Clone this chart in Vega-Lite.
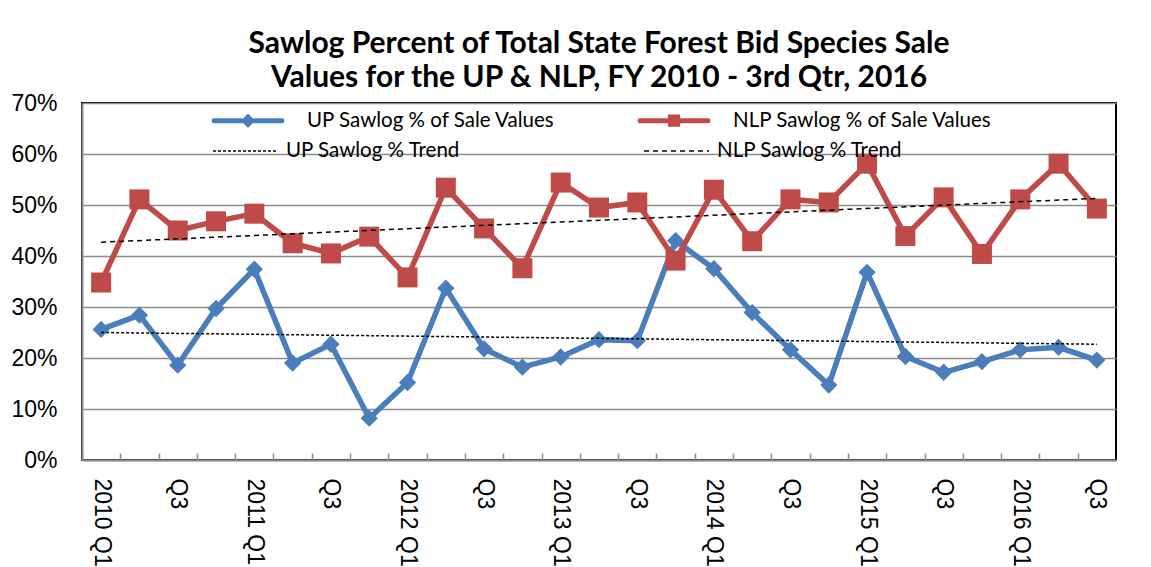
{
  "$schema": "https://vega.github.io/schema/vega-lite/v6.json",
  "width": 1034,
  "height": 357,
  "autosize": {"type": "none"},
  "padding": {"left": 82, "top": 103, "right": 35, "bottom": 107},
  "background": "white",
  "title": {
    "text": ["Sawlog Percent of Total State Forest  Bid Species Sale", "Values for the UP & NLP, FY 2010 - 3rd Qtr, 2016"],
    "font": "Lato",
    "fontWeight": "bold",
    "fontSize": 30,
    "lineHeight": 34,
    "anchor": "middle",
    "offset": -11,
    "color": "black"
  },
  "config": {
    "view": {"stroke": "black", "strokeWidth": 2},
    "axis": {"labelFont": "Liberation Sans", "labelColor": "black", "domainColor": "#8c8c8c", "domainWidth": 2}
  },
  "datasets": {
    "vals": [
      {"q": "2010 Q1", "up": 25.6, "nlp": 34.8},
      {"q": "2010 Q2", "up": 28.4, "nlp": 51.1},
      {"q": "2010 Q3", "up": 18.6, "nlp": 45.0},
      {"q": "2010 Q4", "up": 29.7, "nlp": 46.8},
      {"q": "2011 Q1", "up": 37.4, "nlp": 48.3},
      {"q": "2011 Q2", "up": 19.0, "nlp": 42.5},
      {"q": "2011 Q3", "up": 22.7, "nlp": 40.5},
      {"q": "2011 Q4", "up": 8.2, "nlp": 43.8},
      {"q": "2012 Q1", "up": 15.2, "nlp": 35.8},
      {"q": "2012 Q2", "up": 33.7, "nlp": 53.4},
      {"q": "2012 Q3", "up": 21.8, "nlp": 45.4},
      {"q": "2012 Q4", "up": 18.2, "nlp": 37.6},
      {"q": "2013 Q1", "up": 20.2, "nlp": 54.4},
      {"q": "2013 Q2", "up": 23.6, "nlp": 49.5},
      {"q": "2013 Q3", "up": 23.4, "nlp": 50.5},
      {"q": "2013 Q4", "up": 43.0, "nlp": 39.1},
      {"q": "2014 Q1", "up": 37.5, "nlp": 53.0},
      {"q": "2014 Q2", "up": 28.9, "nlp": 42.9},
      {"q": "2014 Q3", "up": 21.6, "nlp": 51.1},
      {"q": "2014 Q4", "up": 14.7, "nlp": 50.5},
      {"q": "2015 Q1", "up": 36.8, "nlp": 58.1},
      {"q": "2015 Q2", "up": 20.3, "nlp": 43.9},
      {"q": "2015 Q3", "up": 17.2, "nlp": 51.5},
      {"q": "2015 Q4", "up": 19.3, "nlp": 40.4},
      {"q": "2016 Q1", "up": 21.6, "nlp": 51.1},
      {"q": "2016 Q2", "up": 22.1, "nlp": 58.1},
      {"q": "2016 Q3", "up": 19.6, "nlp": 49.3}
    ],
    "trend": [
      {"q": "2010 Q1", "upt": 25.0, "nlpt": 42.7},
      {"q": "2016 Q3", "upt": 22.7, "nlpt": 51.3}
    ]
  },
  "layer": [
    {
      "data": {"name": "vals"},
      "transform": [{"fold": ["up", "nlp"], "as": ["series", "v"]}],
      "mark": {"type": "line", "strokeWidth": 5.5},
      "encoding": {
        "x": {
          "field": "q",
          "type": "ordinal",
          "title": null,
          "scale": {
            "type": "band",
            "paddingInner": 0,
            "paddingOuter": 0,
            "domain": ["2010 Q1","2010 Q2","2010 Q3","2010 Q4","2011 Q1","2011 Q2","2011 Q3","2011 Q4","2012 Q1","2012 Q2","2012 Q3","2012 Q4","2013 Q1","2013 Q2","2013 Q3","2013 Q4","2014 Q1","2014 Q2","2014 Q3","2014 Q4","2015 Q1","2015 Q2","2015 Q3","2015 Q4","2016 Q1","2016 Q2","2016 Q3"]
          },
          "axis": {
            "labelAngle": 90,
            "labelFontSize": 23,
            "labelExpr": "indexof(datum.value, 'Q1') >= 0 ? datum.value : (indexof(datum.value, 'Q3') >= 0 ? 'Q3' : '')",
            "tickSize": -7,
            "tickOffset": -19.15,
            "labelOffset": 19.15,
            "tickColor": "#8c8c8c",
            "tickWidth": 1.5,
            "labelPadding": 25,
            "labelAlign": "left",
            "labelBaseline": "middle",
            "grid": false
          }
        },
        "y": {
          "field": "v",
          "type": "quantitative",
          "title": null,
          "scale": {"domain": [0, 70], "nice": false},
          "axis": {
            "values": [0, 10, 20, 30, 40, 50, 60, 70],
            "labelExpr": "datum.value + '%'",
            "labelFontSize": 23,
            "ticks": false,
            "labelPadding": 25,
            "grid": true,
            "gridColor": "#8c8c8c",
            "gridWidth": 1.5
          }
        },
        "color": {
          "field": "series",
          "type": "nominal",
          "scale": {"domain": ["up", "nlp"], "range": ["#4A7EBB", "#BE4B48"]},
          "legend": {
            "orient": "none",
            "legendX": 127,
            "legendY": -21.5,
            "direction": "horizontal",
            "title": null,
            "padding": 0,
            "symbolType": "stroke",
            "symbolSize": 5329,
            "symbolStrokeWidth": 5,
            "labelOffset": 20,
            "columnPadding": 74,
            "labelFont": "Lato",
            "labelFontSize": 20.5,
            "labelColor": "black",
            "labelLimit": 400,
            "labelExpr": "datum.value == 'up' ? 'UP Sawlog % of Sale Values' : 'NLP Sawlog % of Sale Values'",
            "encode": {
              "symbols": {
                "update": {
                  "shape": {"signal": "datum.value == 'up' ? 'M-0.93,0H0.93M0,-0.1L0.1,0L0,0.1L-0.1,0Z' : 'M-0.93,0H0.93M-0.1,-0.1H0.1V0.1H-0.1Z'"},
                  "fill": {"signal": "datum.value == 'up' ? '#4A7EBB' : '#BE4B48'"},
                  "stroke": {"signal": "datum.value == 'up' ? '#4A7EBB' : '#BE4B48'"},
                  "strokeWidth": {"value": 5},
                  "strokeCap": {"value": "round"},
                  "fillOpacity": {"value": 1}
                }
              }
            }
          }
        }
      }
    },
    {
      "data": {"name": "vals"},
      "mark": {"type": "point", "filled": true, "shape": "diamond", "size": 300, "opacity": 1, "color": "#4A7EBB"},
      "encoding": {
        "x": {"field": "q", "type": "ordinal"},
        "y": {"field": "up", "type": "quantitative"}
      }
    },
    {
      "data": {"name": "vals"},
      "mark": {"type": "point", "filled": true, "shape": "square", "size": 400, "opacity": 1, "color": "#BE4B48"},
      "encoding": {
        "x": {"field": "q", "type": "ordinal"},
        "y": {"field": "nlp", "type": "quantitative"}
      }
    },
    {
      "data": {"name": "trend"},
      "transform": [{"fold": ["upt", "nlpt"], "as": ["tseries", "v"]}],
      "mark": {"type": "line", "strokeWidth": 1.5, "color": "black"},
      "encoding": {
        "x": {"field": "q", "type": "ordinal"},
        "y": {"field": "v", "type": "quantitative"},
        "detail": {"field": "tseries", "type": "nominal"},
        "strokeDash": {
          "field": "tseries",
          "type": "nominal",
          "scale": {"domain": ["upt", "nlpt"], "range": [[3, 2], [5, 4]]},
          "legend": {
            "orient": "none",
            "legendX": 130,
            "legendY": 14.5,
            "direction": "horizontal",
            "title": null,
            "padding": 0,
            "symbolType": "stroke",
            "symbolSize": 4225,
            "symbolStrokeWidth": 1.5,
            "symbolStrokeColor": "black",
            "labelOffset": 7,
            "columnPadding": 180,
            "labelFont": "Lato",
            "labelFontSize": 20.5,
            "labelColor": "black",
            "labelLimit": 400,
            "labelExpr": "datum.value == 'upt' ? 'UP Sawlog % Trend' : 'NLP Sawlog % Trend'"
          }
        }
      }
    }
  ]
}
